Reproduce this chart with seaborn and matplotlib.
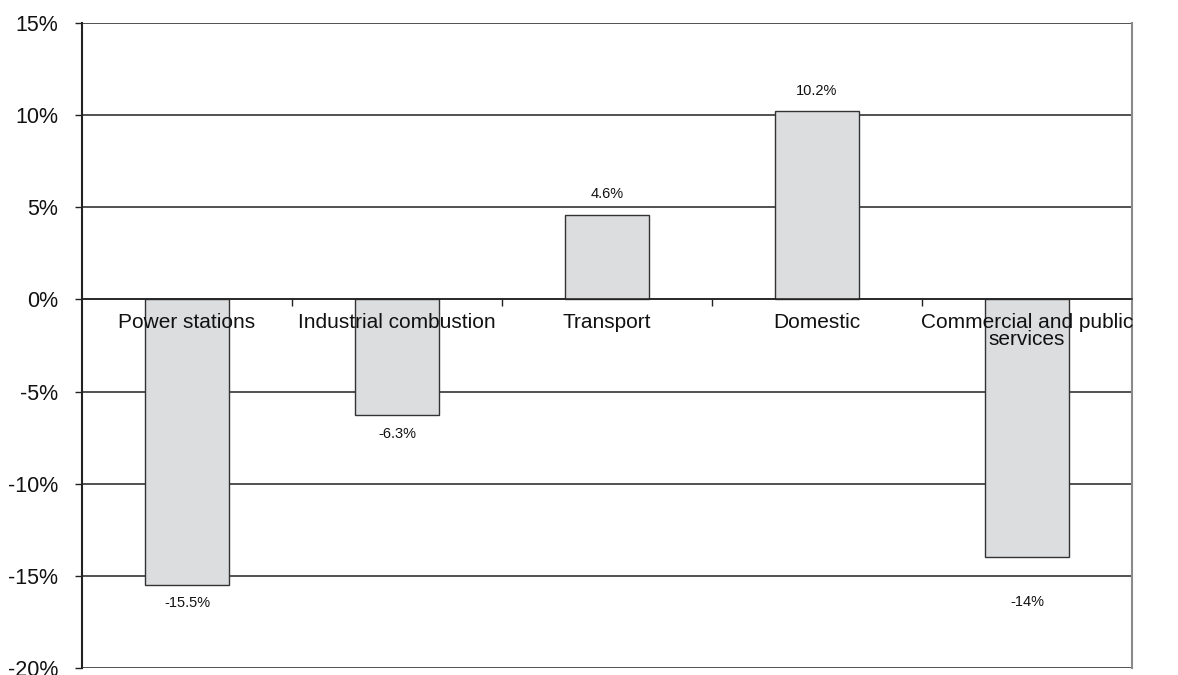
import matplotlib
matplotlib.use("Agg")
import matplotlib.pyplot as plt
import seaborn as sns
import pandas as pd
import numpy as np

# Change in emissions by sector (%)
sectors = ["Power stations", "Industrial combustion", "Transport", "Domestic",
           "Commercial and public\nservices"]
change = [-15.5, -6.3, 4.6, 10.2, -14.0]
value_labels = ["-15.5%", "-6.3%", "4.6%", "10.2%", "-14%"]
y_ticks = [-20, -15, -10, -5, 0, 5, 10, 15]
y_tick_labels = ["-20%", "-15%", "-10%", "-5%", "0%", "5%", "10%", "15%"]

sns.set_theme(style="white")
plt.rcParams["font.family"] = ["Liberation Sans", "DejaVu Sans"]

df = pd.DataFrame({"sector": sectors, "change": change})

fig = plt.figure(figsize=(11.78, 6.75), dpi=100)
ax = fig.add_axes([0.0696, 0.0104, 0.8914, 0.9556])

# horizontal gridlines behind the bars
for t in y_ticks:
    ax.axhline(t, color="#222222", linewidth=1.1, zorder=0)

sns.barplot(data=df, x="sector", y="change", width=0.4, color="#dcdddf",
            edgecolor="#333333", linewidth=1.0, saturation=1, ax=ax, zorder=1)

# axis (tick labels included) drawn on top of the bars
ax.set_axisbelow(False)

ax.set_ylim(-20, 15)
ax.set_xlim(-0.5, len(sectors) - 0.5)
ax.set_yticks(y_ticks)
ax.set_yticklabels(y_tick_labels, fontsize=15.5, color="#111111")
ax.tick_params(axis="y", length=5, width=1, color="#222222", pad=12, left=True)

# category labels hang just under the zero line
ax.spines["bottom"].set_position(("data", 0))
ax.spines["bottom"].set_color("#222222")
ax.spines["bottom"].set_linewidth(1.1)
ax.spines["top"].set_visible(False)
ax.spines["left"].set_color("#222222")
ax.spines["left"].set_linewidth(1.5)
ax.spines["right"].set_color("#8a8a8a")
ax.spines["right"].set_linewidth(1.5)

ax.set_xticks(range(len(sectors)))
ax.set_xticklabels(sectors, fontsize=15, color="#111111", linespacing=0.85)
ax.tick_params(axis="x", which="major", length=0, pad=10, bottom=True)
ax.set_xticks(np.arange(0.5, len(sectors) - 0.5, 1.0), minor=True)
ax.tick_params(axis="x", which="minor", length=5, width=1, color="#222222",
               direction="out", bottom=True)

ax.set_xlabel("")
ax.set_ylabel("")

# value annotations above positive bars and below negative ones
for i, (v, txt) in enumerate(zip(change, value_labels)):
    if v >= 0:
        off = 10
        va = "bottom"
    else:
        off = -27 if i == len(change) - 1 else -8
        va = "top"
    ax.annotate(txt, (i, v), xytext=(0, off), textcoords="offset points",
                ha="center", va=va, fontsize=10.5, color="#111111")

fig.savefig("out.png", dpi=100)
